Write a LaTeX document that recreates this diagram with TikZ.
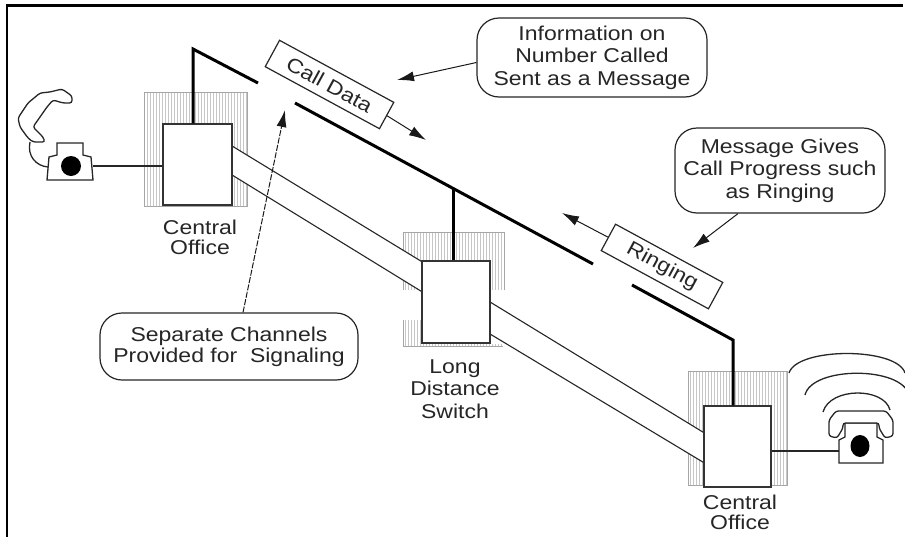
\documentclass[tikz,border=0pt]{standalone}
\usepackage{fontspec}
\newfontfamily\lblfont[FakeStretch=1.15]{Liberation Sans}
\usetikzlibrary{arrows.meta,patterns,calc}

\begin{document}
\begin{tikzpicture}[x=1pt,y=-1pt,
  lbl/.style={font=\lblfont\fontsize{20}{21}\selectfont, text=black!85, align=center, inner sep=0pt},
  hatchbox/.style={pattern=vertical lines, pattern color=gray!45, inner sep=0pt},
  switchbox/.style={draw=black!80, fill=white, line width=1.3pt, inner sep=0pt},
  trunk/.style={line width=1.1pt, black!85},
  sig/.style={line width=3pt, black},
  msgbox/.style={draw=black!85, fill=white, line width=1.2pt, inner sep=0pt, rotate=-28.5,
                 font=\lblfont\fontsize{20}{21}\selectfont, text=black!85},
  callout/.style={draw=black!85, fill=white, line width=1.2pt, rounded corners=22pt, inner sep=0pt,
                  font=\lblfont\fontsize{20}{22.5}\selectfont, text=black!85, align=center},
  pointer/.style={line width=1pt, black!90, -{Latex[length=17pt,width=10pt]}},
  handset/.style={draw=black!85, fill=white, line width=1.3pt, rounded corners=2.5pt},
  ring/.style={line width=1.3pt, black!85}
]
\useasboundingbox (0,0) rectangle (905,536);

% frame
\draw[line width=2.2pt] (903,5.5) -- (7,5.5) -- (7,540);

% shaded housings of the three exchanges
\node[hatchbox, draw=gray!70, line width=1pt, minimum width=103pt, minimum height=114pt] (co1h) at (195.5,149) {};
\node[hatchbox, draw=gray!70, line width=1pt, minimum width=99pt, minimum height=114pt] (co2h) at (737.5,428) {};
\node[hatchbox, minimum width=101pt, minimum height=114pt] (ldh) at (453.5,289) {};
\fill[white] (402,290) rectangle (421.5,320);
\fill[white] (490.5,290) rectangle (505,344);
\draw[gray!70, line width=1pt] (403,290) -- (403,232) -- (504,232) -- (504,290);
\draw[gray!70, line width=1pt] (403,320) -- (403,346) -- (503,346);

% switching equipment
\node[switchbox, minimum width=69pt, minimum height=81pt] (co1) at (197.5,164.5) {};
\node[switchbox, minimum width=68pt, minimum height=82pt] (ld) at (456,302) {};
\node[switchbox, minimum width=67pt, minimum height=81pt] (co2) at (737.5,446.5) {};

% voice trunks
\coordinate (a1) at ([yshift=-23pt]co1.north east);
\coordinate (a2) at ([yshift=-52pt]co1.north east);
\coordinate (b1) at ([yshift=-1pt]ld.north west);
\coordinate (b2) at ([yshift=-31pt]ld.north west);
\coordinate (c1) at ([yshift=-42pt]ld.north east);
\coordinate (c2) at ([yshift=-74pt]ld.north east);
\coordinate (d1) at ([yshift=-27pt]co2.north west);
\coordinate (d2) at ([yshift=-57pt]co2.north west);
\fill[white] (a1) -- (b1) -- (b2) -- (a2) -- cycle;
\fill[white] (c1) -- (d1) -- (d2) -- (c2) -- cycle;
\draw[trunk] (a1) -- (b1);
\draw[trunk] (a2) -- (b2);
\draw[trunk] (c1) -- (d1);
\draw[trunk] (c2) -- (d2);
% redraw box edges over the trunk ends
\node[switchbox, minimum width=69pt, minimum height=81pt] at (co1) {};
\node[switchbox, minimum width=68pt, minimum height=82pt] at (ld) {};
\node[switchbox, minimum width=67pt, minimum height=81pt] at (co2) {};

% common-channel signaling link
\coordinate (k1) at (193,49);
\coordinate (g1) at (258,83);
\coordinate (m1) at (295,103);
\coordinate (m2) at (593,264);
\coordinate (m3) at (632,285);
\coordinate (k2) at (733,340);
\coordinate (jn) at (453,188.4);
\draw[sig] (k1 |- co1.north) -- (k1) -- (g1);
\draw[sig] (m1) -- (m2);
\draw[sig] (m3) -- (k2) -- (k2 |- co2.north);
\draw[sig] (jn) -- (jn |- ld.north);

% calling telephone (off hook)
\draw[line width=1.3pt, black!85] (30,142) .. controls (27,156) and (36,166) .. (48,167);
\draw[handset] (50,92) -- (62,89) -- (72,96) -- (72,103) -- (63,103) -- (53,100) -- (47,107)
   -- (33,127) -- (43,137) -- (45,142) -- (33,142) -- (28,138) -- (20,127) -- (18,118)
   -- (28,103) -- (40,93) -- cycle;
\draw[draw=black!85, fill=white, line width=1.3pt] (47,180) -- (49,157) -- (57,155) -- (57,143)
   -- (83,143) -- (83,155) -- (91,157) -- (93,180) -- cycle;
\fill (71,166) circle (10pt);
\coordinate (ph1) at (93,166);
\draw[line width=1.2pt, black!85] (ph1) -- (ph1 -| co1.west);

% called telephone (ringing)
\draw[draw=black!85, fill=white, line width=1.3pt] (839,463) -- (839,440) -- (845,437) -- (845,423)
   -- (877,423) -- (877,437) -- (883,440) -- (883,463) -- cycle;
\draw[handset] (829,436) -- (829,420) -- (836,411) -- (886,411) -- (893,420) -- (893,436)
   -- (885,438) -- (879,428) -- (879,423) -- (843,423) -- (843,428) -- (837,438) -- cycle;
\fill (860,446) ellipse (9.5pt and 11pt);
\draw[ring] (823,412) .. controls (830,387) and (884,387) .. (890,410);
\draw[ring] (805,395) .. controls (812,366) and (902,366) .. (909,395);
\draw[ring] (789,373) .. controls (797,347) and (897,347) .. (905,373);
\coordinate (ph2) at (839,451);
\draw[line width=1.2pt, black!85] (ph2) -- (ph2 -| co2.east);

% exchange names
\node[lbl, font=\lblfont\fontsize{20}{20}\selectfont] (co1lbl) at (200,237) {Central\\Office};
\node[lbl, font=\lblfont\fontsize{20}{22.5}\selectfont] (ldlbl) at (455,389) {Long\\Distance\\Switch};
\node[lbl, font=\lblfont\fontsize{20}{20}\selectfont] (co2lbl) at (740,512) {Central\\Office};

% messages on the signaling link
\node[msgbox, minimum width=130pt, minimum height=30pt] (cd) at (329.5,84.5) {Call Data};
\coordinate (cdtip) at (426,140);
\draw[pointer] (cd.east) -- (cdtip);
\node[msgbox, minimum width=122pt, minimum height=30pt] (rg) at (662,266.5) {Ringing};
\coordinate (rgtip) at (562,213);
\draw[pointer] (rg.west) -- (rgtip);

% explanatory callouts
\node[callout, minimum width=230pt, minimum height=79pt] (info) at (592,57.5)
   {Information on\\Number Called\\Sent as a Message};
\coordinate (infotip) at (397,80);
\draw[pointer] ($(info.west)+(0,5)$) -- (infotip);

\node[callout, minimum width=210pt, minimum height=85pt] (msg) at (780,170.5)
   {Message Gives\\Call Progress such\\as Ringing};
\coordinate (msgtip) at (693,248);
\draw[pointer] ($(msg.south)+(-42,0)$) -- (msgtip);

\node[callout, minimum width=258pt, minimum height=67pt, font=\lblfont\fontsize{20}{21}\selectfont] (sep) at (229,346.5)
   {Separate Channels\\Provided for\ \ Signaling};
\coordinate (septip) at (285,110);
\draw[pointer, dash pattern=on 6pt off 1.5pt] ($(sep.north)+(14,0)$) -- (septip);

\end{tikzpicture}
\end{document}
